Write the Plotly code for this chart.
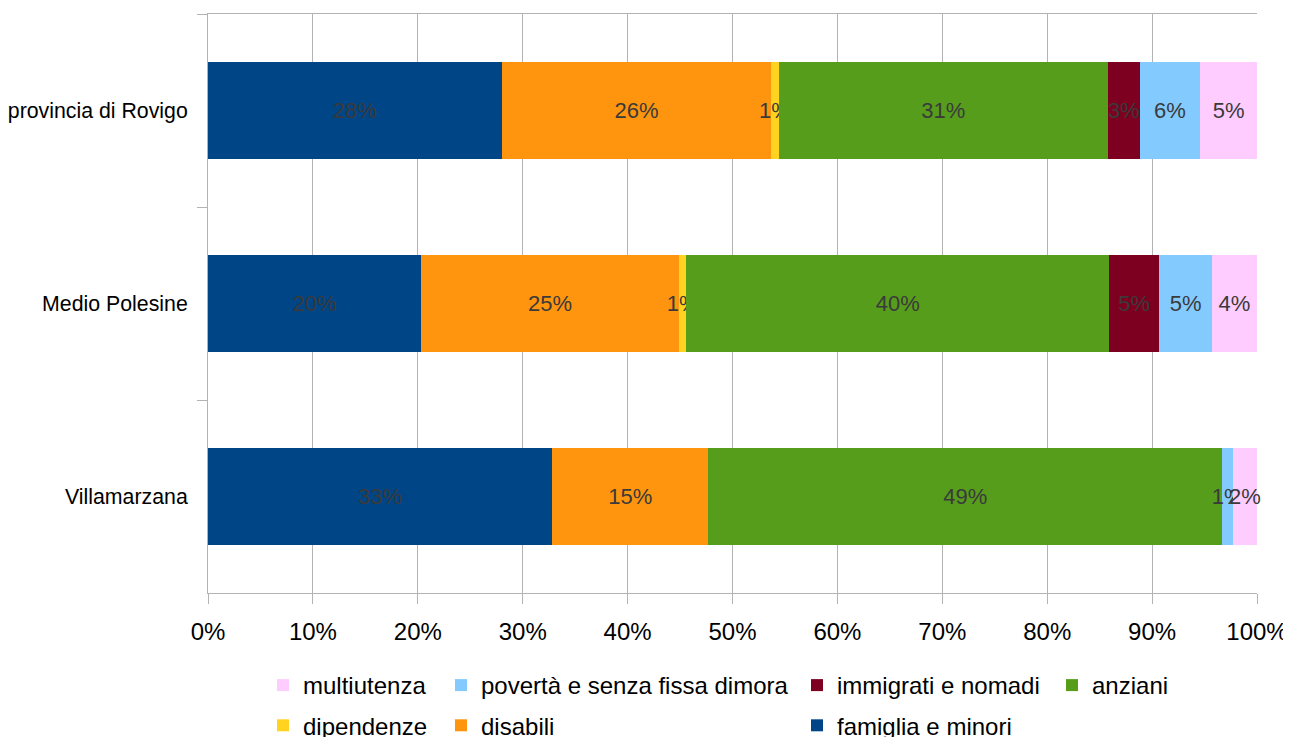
import plotly.graph_objects as go

categories = ["provincia di Rovigo", "Medio Polesine", "Villamarzana"]

series_names = ["famiglia e minori", "disabili", "dipendenze", "anziani",
                "immigrati e nomadi", "povertà e senza fissa dimora", "multiutenza"]

famiglia = [28.0, 20.3, 32.8]
disabili = [25.7, 24.6, 14.9]
dipendenze = [0.7, 0.7, 0.0]
anziani = [31.4, 40.3, 49.0]
immigrati = [3.0, 4.8, 0.0]
poverta = [5.8, 5.0, 1.0]
multiutenza = [5.4, 4.3, 2.3]

x_ticks = list(range(0, 101, 10))
x_tick_labels = [f"{v}%" for v in x_ticks]

series_values = [famiglia, disabili, dipendenze, anziani, immigrati, poverta, multiutenza]
colors = ["#004586", "#ff950e", "#ffd320", "#579d1c", "#7e0021", "#83caff", "#ffccff"]
legend_of = ["legend3", "legend2", "legend", "legend4", "legend3", "legend2", "legend"]
legend_rank = [2, 2, 2, 1, 1, 1, 1]

FONT = "Liberation Sans"

fig = go.Figure()
for name, vals, col, lg, rk in zip(series_names, series_values, colors, legend_of, legend_rank):
    fig.add_trace(go.Bar(
        y=categories, x=vals, name=name, orientation="h",
        marker=dict(color=col, line=dict(width=0)),
        text=["" if v == 0 else f"{round(v)}%" for v in vals],
        textposition="inside", insidetextanchor="middle", textangle=0,
        textfont=dict(family=FONT, size=22, color="#3a3a3a"),
        cliponaxis=False, legend=lg, legendgroup=name, legendrank=rk,
        hoverinfo="name+x",
    ))

# page offset (body margin) compensation
OFF = 8
FW, FH = 1291, 729
W0, W1 = 208 - OFF, 1257 - OFF
Y0, Y1 = 14 - OFF, 593 - OFF
PW = W1 - W0
PH = Y1 - Y0

def px_x(p):
    return (p - OFF - W0) / PW

def px_y(p):
    return (Y1 - (p - OFF)) / PH

leg_common = dict(orientation="v", yanchor="top", xanchor="left",
                  bgcolor="rgba(0,0,0,0)", traceorder="grouped",
                  tracegroupgap=6, itemwidth=30,
                  font=dict(family=FONT, size=24, color="#000000"))
ly = px_y(663)

fig.update_layout(
    width=FW, height=FH,
    margin=dict(l=W0, r=FW - W1, t=Y0, b=FH - Y1, autoexpand=False),
    paper_bgcolor="white", plot_bgcolor="white",
    barmode="stack", bargap=0.5,
    uniformtext=dict(minsize=22, mode="show"),
    font=dict(family=FONT, color="#000000"),
    legend=dict(x=px_x(263), y=ly, **leg_common),
    legend2=dict(x=px_x(441), y=ly, **leg_common),
    legend3=dict(x=px_x(797), y=ly, **leg_common),
    legend4=dict(x=px_x(1052), y=ly, **leg_common),
    xaxis=dict(range=[0, 100.0001], tickvals=x_ticks, ticktext=x_tick_labels,
               showgrid=True, gridcolor="#b3b3b3", gridwidth=1,
               showline=True, linecolor="#b3b3b3", linewidth=1, mirror=True,
               ticks="outside", ticklen=10, tickcolor="#b3b3b3",
               ticklabelstandoff=7,
               tickfont=dict(family=FONT, size=24, color="#000000"),
               zeroline=False, fixedrange=True),
    yaxis=dict(categoryorder="array", categoryarray=categories, autorange="reversed",
               showgrid=False, showline=True, linecolor="#b3b3b3", linewidth=1,
               ticks="outside", ticklen=10, tickcolor="#b3b3b3", tickson="boundaries",
               ticklabelstandoff=15,
               tickfont=dict(family=FONT, size=21.3, color="#000000"),
               fixedrange=True),
)

fig.write_html("out.html")
